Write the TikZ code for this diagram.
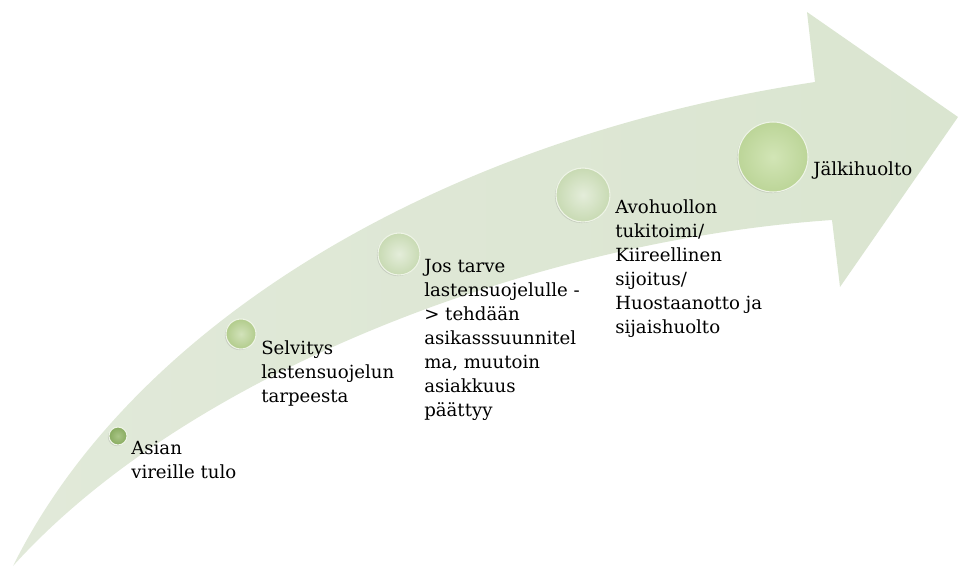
\documentclass[tikz,border=0pt]{standalone}
\usepackage{fontspec}
\setmainfont{DejaVu Serif}
\usetikzlibrary{shadows}
\definecolor{arrowlight}{HTML}{E1E9D9}
\definecolor{arrowdark}{HTML}{DAE5D0}
\definecolor{rim}{HTML}{EEF4E6}
\definecolor{ballAin}{HTML}{A9C586}
\definecolor{ballAout}{HTML}{88AB60}
\definecolor{ballBin}{HTML}{D2E2BA}
\definecolor{ballBout}{HTML}{B2CC8C}
\definecolor{ballCin}{HTML}{E4EDDA}
\definecolor{ballCout}{HTML}{C8DAB3}
\definecolor{ballDin}{HTML}{D2E5B6}
\definecolor{ballDout}{HTML}{BCD598}
\begin{document}
\begin{tikzpicture}[x=0.75pt, y=-0.75pt, every node/.style={font=\fontsize{13.6}{18}\selectfont}]
  \tikzstyle{ball} = [draw=rim, circle, inner sep=0pt, line width=0.8pt, drop shadow={shadow xshift=-0.8pt, shadow yshift=-0.8pt, opacity=0.25}]
  \tikzstyle{txt} = [anchor=north west, align=left, inner sep=0pt]
  \useasboundingbox (0,0) rectangle (958,568);
  % arrow body
  \shade[left color=arrowlight, right color=arrowdark]
    (13,566) .. controls (130,330) and (430,140) .. (815,82)
    -- (807,12) -- (958,117) -- (840,287) -- (832,220)
    .. controls (540,240) and (190,370) .. (13,566) -- cycle;
  % steps
  \node[ball, minimum size=13.5pt, inner color=ballAin, outer color=ballAout] (c1) at (118,436) {};
  \node[ball, minimum size=22.5pt, inner color=ballBin, outer color=ballBout] (c2) at (241,334) {};
  \node[ball, minimum size=31.5pt, inner color=ballCin, outer color=ballCout] (c3) at (399,254) {};
  \node[ball, minimum size=40.5pt, inner color=ballCin, outer color=ballCout] (c4) at (583,195) {};
  \node[ball, minimum size=52.5pt, inner color=ballDin, outer color=ballDout] (c5) at (773,157) {};
  \node[txt] (t1) at (131,441) {Asian\\vireille tulo};
  \node[txt] (t2) at (261,340) {Selvitys\\lastensuojelun\\tarpeesta};
  \node[txt] (t3) at (424,259) {Jos tarve\\lastensuojelulle -\\> tehdään\\asikasssuunnitel\\ma, muutoin\\asiakkuus\\päättyy};
  \node[txt] (t4) at (615,199) {Avohuollon\\tukitoimi/\\Kiireellinen\\sijoitus/\\Huostaanotto ja\\sijaishuolto};
  \node[txt] (t5) at (813,161) {Jälkihuolto};
\end{tikzpicture}
\end{document}
